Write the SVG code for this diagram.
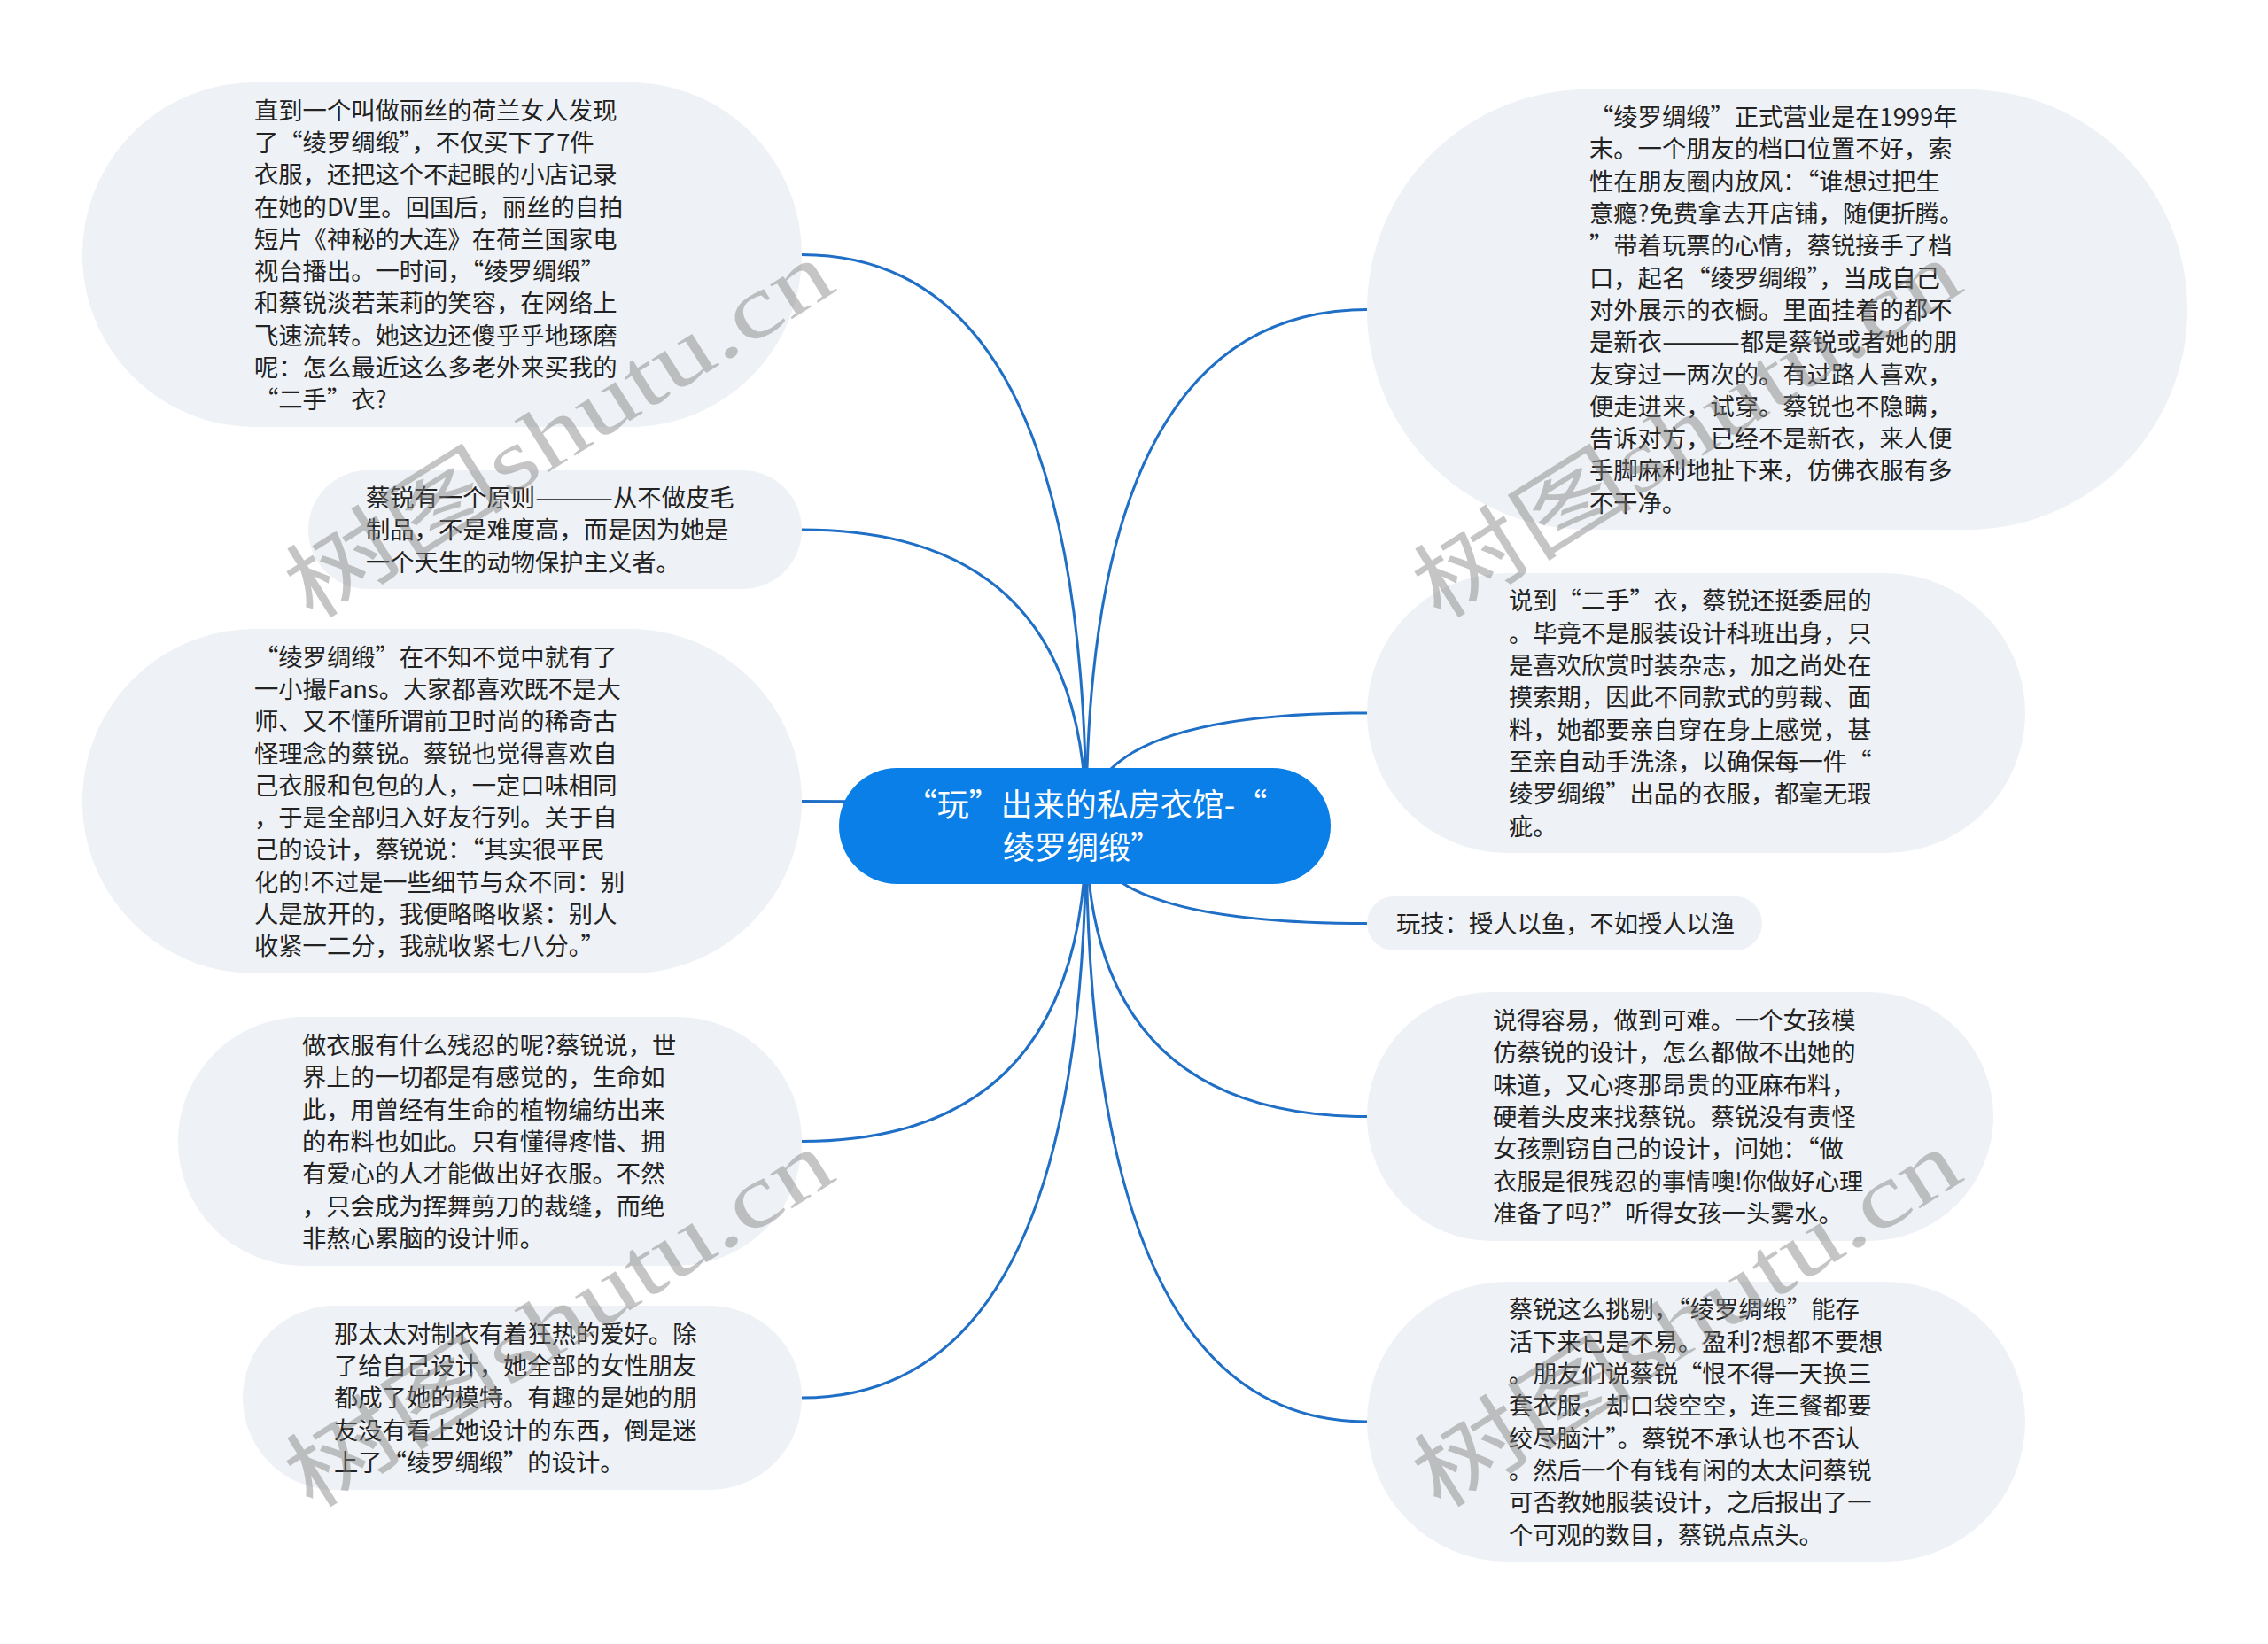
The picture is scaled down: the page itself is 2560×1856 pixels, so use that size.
<svg xmlns="http://www.w3.org/2000/svg" width="2560" height="1856" viewBox="0 0 2560 1856">
<style>
.node{fill:#eef1f5}
.t{font-family:'Noto Sans CJK SC','Microsoft YaHei',sans-serif;font-size:27.3px;fill:#222}
.ct{font-family:'Noto Sans CJK SC','Microsoft YaHei',sans-serif;font-size:36px;fill:#fff;text-anchor:middle}
.link{fill:none;stroke:#1f6fc7;stroke-width:3}
.wm{font-family:'Liberation Serif','Noto Sans CJK SC',serif;font-size:100px;fill:#7f7f7f;opacity:0.45}
</style>
<rect width="2560" height="1856" fill="#fff"/>
<g id="connectors">
<path class="link" d="M1226 932 Q1226 287.5 905 287.5"/>
<path class="link" d="M1226 932 Q1226 598 905 598"/>
<path class="link" d="M1226 932 Q1226 904.5 905 904.5"/>
<path class="link" d="M1226 932 Q1226 1288.5 905 1288.5"/>
<path class="link" d="M1226 932 Q1226 1578 905 1578"/>
<path class="link" d="M1226 932 Q1226 349.5 1543 349.5"/>
<path class="link" d="M1226 932 Q1226 805 1543 805"/>
<path class="link" d="M1226 932 Q1226 1042.5 1543 1042.5"/>
<path class="link" d="M1226 932 Q1226 1260.5 1543 1260.5"/>
<path class="link" d="M1226 932 Q1226 1605 1543 1605"/>
</g>
<g id="center">
<rect x="947" y="867" width="555" height="131" rx="65.5" fill="#0b7fe8"/>
<text class="ct" x="1226" y="922">“玩”出来的私房衣馆-“</text>
<text class="ct" x="1222" y="970">绫罗绸缎”</text>
</g>
<g id="L1">
<rect class="node" x="93" y="93" width="812" height="389" rx="194.5"/>
<text class="t" x="287" y="134.6"><tspan x="287">直到一个叫做丽丝的荷兰女人发现</tspan><tspan x="287" dy="36.3">了“绫罗绸缎”，不仅买下了7件</tspan><tspan x="287" dy="36.3">衣服，还把这个不起眼的小店记录</tspan><tspan x="287" dy="36.3">在她的DV里。回国后，丽丝的自拍</tspan><tspan x="287" dy="36.3">短片《神秘的大连》在荷兰国家电</tspan><tspan x="287" dy="36.3">视台播出。一时间，“绫罗绸缎”</tspan><tspan x="287" dy="36.3">和蔡锐淡若茉莉的笑容，在网络上</tspan><tspan x="287" dy="36.3">飞速流转。她这边还傻乎乎地琢磨</tspan><tspan x="287" dy="36.3">呢：怎么最近这么多老外来买我的</tspan><tspan x="287" dy="36.3">“二手”衣?</tspan></text>
</g>
<g id="L2">
<rect class="node" x="348" y="531" width="557" height="134" rx="67"/>
<text class="t" x="413" y="572.1"><tspan x="413">蔡锐有一个原则</tspan><tspan textLength="88" lengthAdjust="spacingAndGlyphs">———</tspan><tspan>从不做皮毛</tspan><tspan x="413" dy="36.3">制品，不是难度高，而是因为她是</tspan><tspan x="413" dy="36.3">一个天生的动物保护主义者。</tspan></text>
</g>
<g id="L3">
<rect class="node" x="93" y="710" width="812" height="389" rx="194.5"/>
<text class="t" x="287" y="751.6"><tspan x="287">“绫罗绸缎”在不知不觉中就有了</tspan><tspan x="287" dy="36.3">一小撮Fans。大家都喜欢既不是大</tspan><tspan x="287" dy="36.3">师、又不懂所谓前卫时尚的稀奇古</tspan><tspan x="287" dy="36.3">怪理念的蔡锐。蔡锐也觉得喜欢自</tspan><tspan x="287" dy="36.3">己衣服和包包的人，一定口味相同</tspan><tspan x="287" dy="36.3">，于是全部归入好友行列。关于自</tspan><tspan x="287" dy="36.3">己的设计，蔡锐说：“其实很平民</tspan><tspan x="287" dy="36.3">化的!不过是一些细节与众不同：别</tspan><tspan x="287" dy="36.3">人是放开的，我便略略收紧：别人</tspan><tspan x="287" dy="36.3">收紧一二分，我就收紧七八分。”</tspan></text>
</g>
<g id="L4">
<rect class="node" x="201" y="1148" width="704" height="281" rx="140.5"/>
<text class="t" x="341" y="1190"><tspan x="341">做衣服有什么残忍的呢?蔡锐说，世</tspan><tspan x="341" dy="36.3">界上的一切都是有感觉的，生命如</tspan><tspan x="341" dy="36.3">此，用曾经有生命的植物编纺出来</tspan><tspan x="341" dy="36.3">的布料也如此。只有懂得疼惜、拥</tspan><tspan x="341" dy="36.3">有爱心的人才能做出好衣服。不然</tspan><tspan x="341" dy="36.3">，只会成为挥舞剪刀的裁缝，而绝</tspan><tspan x="341" dy="36.3">非熬心累脑的设计师。</tspan></text>
</g>
<g id="L5">
<rect class="node" x="274" y="1474" width="631" height="208" rx="104"/>
<text class="t" x="377" y="1515.8"><tspan x="377">那太太对制衣有着狂热的爱好。除</tspan><tspan x="377" dy="36.3">了给自己设计，她全部的女性朋友</tspan><tspan x="377" dy="36.3">都成了她的模特。有趣的是她的朋</tspan><tspan x="377" dy="36.3">友没有看上她设计的东西，倒是迷</tspan><tspan x="377" dy="36.3">上了“绫罗绸缎”的设计。</tspan></text>
</g>
<g id="R1">
<rect class="node" x="1543" y="101" width="926" height="497" rx="248.5"/>
<text class="t" x="1794" y="142.1"><tspan x="1794">“绫罗绸缎”正式营业是在1999年</tspan><tspan x="1794" dy="36.3">末。一个朋友的档口位置不好，索</tspan><tspan x="1794" dy="36.3">性在朋友圈内放风：“谁想过把生</tspan><tspan x="1794" dy="36.3">意瘾?免费拿去开店铺，随便折腾。</tspan><tspan x="1794" dy="36.3">”带着玩票的心情，蔡锐接手了档</tspan><tspan x="1794" dy="36.3">口，起名“绫罗绸缎”，当成自己</tspan><tspan x="1794" dy="36.3">对外展示的衣橱。里面挂着的都不</tspan><tspan x="1794" dy="36.3">是新衣</tspan><tspan textLength="88" lengthAdjust="spacingAndGlyphs">———</tspan><tspan>都是蔡锐或者她的朋</tspan><tspan x="1794" dy="36.3">友穿过一两次的。有过路人喜欢，</tspan><tspan x="1794" dy="36.3">便走进来，试穿。蔡锐也不隐瞒，</tspan><tspan x="1794" dy="36.3">告诉对方，已经不是新衣，来人便</tspan><tspan x="1794" dy="36.3">手脚麻利地扯下来，仿佛衣服有多</tspan><tspan x="1794" dy="36.3">不干净。</tspan></text>
</g>
<g id="R2">
<rect class="node" x="1543" y="647" width="743" height="316" rx="158"/>
<text class="t" x="1703" y="688.4"><tspan x="1703">说到“二手”衣，蔡锐还挺委屈的</tspan><tspan x="1703" dy="36.3">。毕竟不是服装设计科班出身，只</tspan><tspan x="1703" dy="36.3">是喜欢欣赏时装杂志，加之尚处在</tspan><tspan x="1703" dy="36.3">摸索期，因此不同款式的剪裁、面</tspan><tspan x="1703" dy="36.3">料，她都要亲自穿在身上感觉，甚</tspan><tspan x="1703" dy="36.3">至亲自动手洗涤，以确保每一件“</tspan><tspan x="1703" dy="36.3">绫罗绸缎”出品的衣服，都毫无瑕</tspan><tspan x="1703" dy="36.3">疵。</tspan></text>
</g>
<g id="R3">
<rect class="node" x="1543" y="1012" width="446" height="61" rx="30.5"/>
<text class="t" x="1576" y="1052.9">玩技：授人以鱼，不如授人以渔</text>
</g>
<g id="R4">
<rect class="node" x="1543" y="1120" width="707" height="281" rx="140.5"/>
<text class="t" x="1685" y="1162"><tspan x="1685">说得容易，做到可难。一个女孩模</tspan><tspan x="1685" dy="36.3">仿蔡锐的设计，怎么都做不出她的</tspan><tspan x="1685" dy="36.3">味道，又心疼那昂贵的亚麻布料，</tspan><tspan x="1685" dy="36.3">硬着头皮来找蔡锐。蔡锐没有责怪</tspan><tspan x="1685" dy="36.3">女孩剽窃自己的设计，问她：“做</tspan><tspan x="1685" dy="36.3">衣服是很残忍的事情噢!你做好心理</tspan><tspan x="1685" dy="36.3">准备了吗?”听得女孩一头雾水。</tspan></text>
</g>
<g id="R5">
<rect class="node" x="1543" y="1447" width="743" height="316" rx="158"/>
<text class="t" x="1703" y="1488.4"><tspan x="1703">蔡锐这么挑剔，“绫罗绸缎”能存</tspan><tspan x="1703" dy="36.3">活下来已是不易。盈利?想都不要想</tspan><tspan x="1703" dy="36.3">。朋友们说蔡锐“恨不得一天换三</tspan><tspan x="1703" dy="36.3">套衣服，却口袋空空，连三餐都要</tspan><tspan x="1703" dy="36.3">绞尽脑汁”。蔡锐不承认也不否认</tspan><tspan x="1703" dy="36.3">。然后一个有钱有闲的太太问蔡锐</tspan><tspan x="1703" dy="36.3">可否教她服装设计，之后报出了一</tspan><tspan x="1703" dy="36.3">个可观的数目，蔡锐点点头。</tspan></text>
</g>
<g id="watermarks">
<text class="wm" x="351" y="702" textLength="704" lengthAdjust="spacingAndGlyphs" transform="rotate(-32.2 351 702)">树图shutu.cn</text>
<text class="wm" x="1624" y="702" textLength="704" lengthAdjust="spacingAndGlyphs" transform="rotate(-32.2 1624 702)">树图shutu.cn</text>
<text class="wm" x="351" y="1706" textLength="704" lengthAdjust="spacingAndGlyphs" transform="rotate(-32.2 351 1706)">树图shutu.cn</text>
<text class="wm" x="1624" y="1706" textLength="704" lengthAdjust="spacingAndGlyphs" transform="rotate(-32.2 1624 1706)">树图shutu.cn</text>
</g>
</svg>
